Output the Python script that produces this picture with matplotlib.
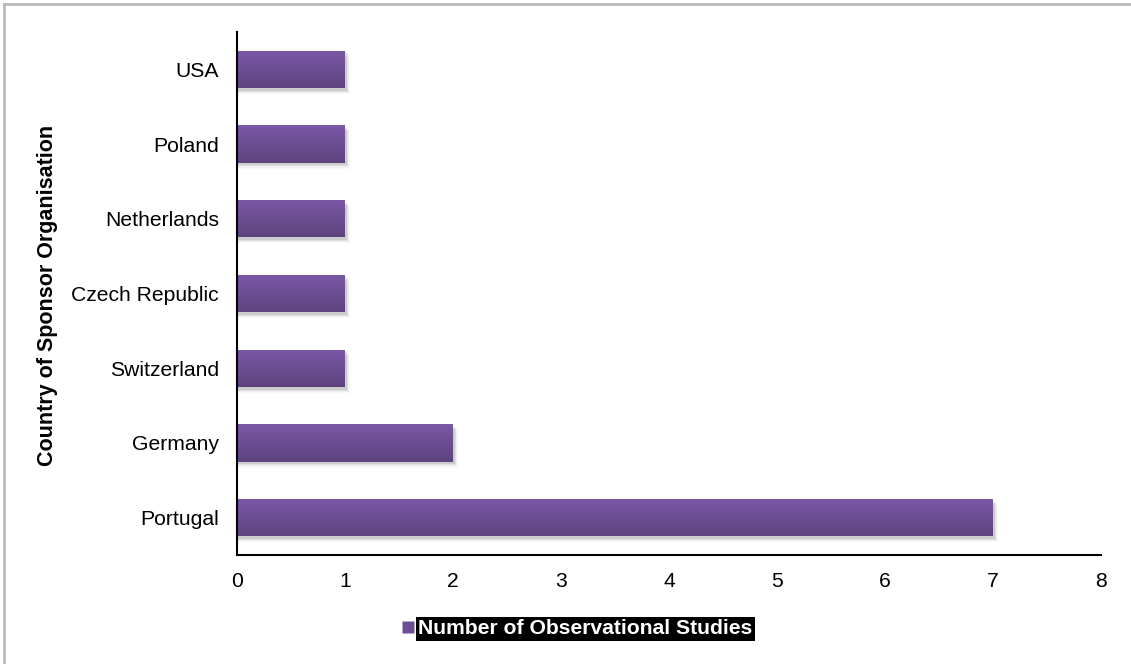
import numpy as np
import matplotlib.pyplot as plt
from matplotlib.patches import Rectangle
from matplotlib.lines import Line2D
from matplotlib.colors import LinearSegmentedColormap

plt.rcParams['font.family'] = ['Liberation Sans', 'DejaVu Sans']

# --- data ---
countries = ["Portugal", "Germany", "Switzerland", "Czech Republic",
             "Netherlands", "Poland", "USA"]
studies = [7, 2, 1, 1, 1, 1, 1]
series_name = "Number of Observational Studies"

fig = plt.figure(figsize=(11.31, 6.64), dpi=100)
ax = fig.add_axes([237 / 1131, 1 - 555 / 664, (1101 - 237) / 1131, (555 - 32) / 664])

bar_h = 0.5
purple = LinearSegmentedColormap.from_list("bar", ["#5d437e", "#6c4e93", "#7c58a6"])
grad = np.linspace(0, 1, 256).reshape(-1, 1)

for i, (c, v) in enumerate(zip(countries, studies)):
    # soft drop shadow under each bar
    for k, a in enumerate([0.09, 0.06, 0.04, 0.025]):
        ax.add_patch(Rectangle((0, i - bar_h / 2 - 0.035 - k * 0.015), v + 0.02 + k * 0.008,
                               bar_h, facecolor="black", alpha=a, lw=0, zorder=1))
    r = Rectangle((0, i - bar_h / 2), v, bar_h, facecolor="none", lw=0, zorder=2)
    ax.add_patch(r)
    im = ax.imshow(grad, cmap=purple, aspect="auto", origin="lower",
                   extent=(0, v, i - bar_h / 2, i + bar_h / 2), zorder=2)
    im.set_clip_path(r)

ax.set_xlim(0, 8)
ax.set_ylim(-0.5, len(countries) - 0.5)
ax.set_yticks(range(len(countries)))
ax.set_yticklabels(countries)
ax.set_xticks(range(0, 9))
ax.tick_params(axis="both", length=0, labelsize=15.2)
ax.tick_params(axis="x", pad=12)
ax.tick_params(axis="y", pad=13)
for s in ["top", "right"]:
    ax.spines[s].set_visible(False)
for s in ["left", "bottom"]:
    ax.spines[s].set_linewidth(1.5)
    ax.spines[s].set_color("black")

fig.text(48 / 1131, 1 - 295 / 664, "Country of Sponsor Organisation", rotation=90,
         ha="center", va="center", fontsize=15.5, fontweight="bold")

# legend entry
handle = Line2D([], [], marker="s", color="none", markerfacecolor="#6c4e93",
                markeredgecolor="none", markersize=9)
leg = fig.legend([handle], [series_name], loc="center", bbox_to_anchor=(575 / 1131, 1 - 629 / 664),
                 frameon=False, handletextpad=0.0, handlelength=1.0, fontsize=15.2)
for t in leg.get_texts():
    t.set_color("white")
    t.set_fontweight("bold")
    t.set_bbox(dict(facecolor="black", edgecolor="none", pad=1.5))

# thin gray frame at top and left
fig.add_artist(Line2D([4 / 1131, 4 / 1131], [0, 1 - 4 / 664], color="#bbbbbb", lw=2))
fig.add_artist(Line2D([4 / 1131, 1], [1 - 4 / 664, 1 - 4 / 664], color="#bbbbbb", lw=2))

fig.savefig("out.png", dpi=100)
